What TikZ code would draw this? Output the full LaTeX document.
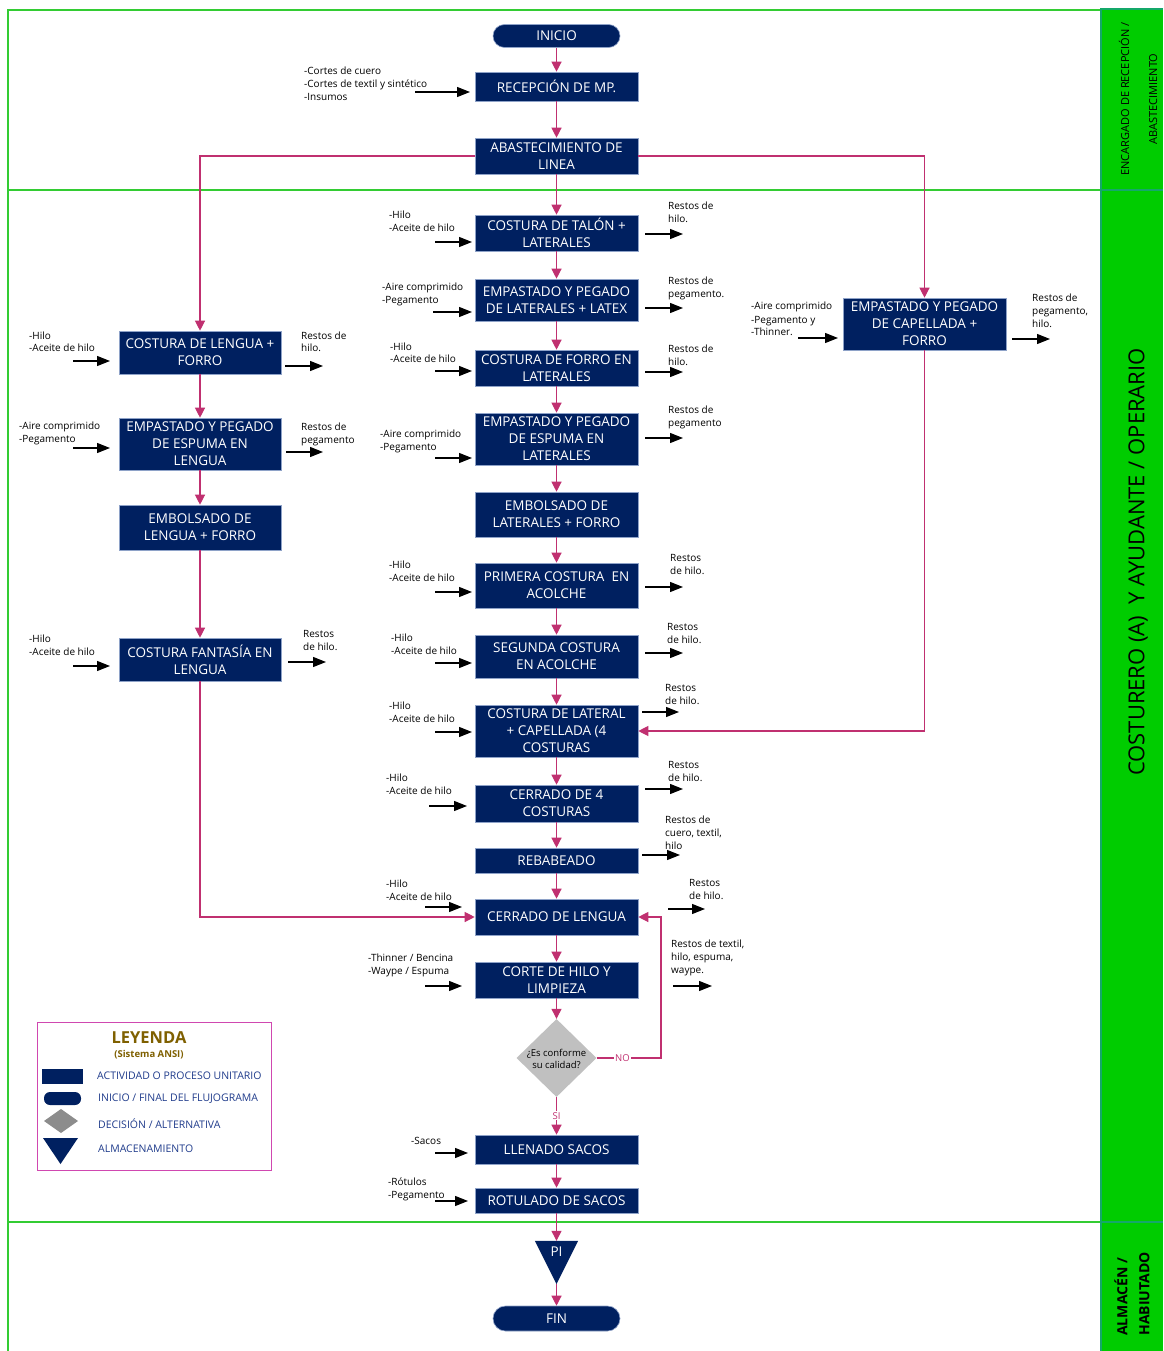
\documentclass[tikz,border=0pt]{standalone}
\usepackage{fontspec}
\setmainfont{Open Sans}
\usetikzlibrary{arrows.meta,shapes.geometric,calc}

\definecolor{navy}{HTML}{002060}
\definecolor{flowmag}{HTML}{C03070}
\definecolor{lanegreen}{HTML}{33CC33}
\definecolor{bandgreen}{HTML}{00CC00}
\definecolor{bandedge}{HTML}{14A86A}
\definecolor{boxedge}{HTML}{8EA2C8}
\definecolor{legendline}{HTML}{D048B0}
\definecolor{legendgold}{HTML}{7F6000}
\definecolor{legendtext}{HTML}{203C8C}
\definecolor{decgray}{HTML}{C0C0C0}
\definecolor{legendgray}{HTML}{8C8C8C}

% input / output material: label, two end points and the black arrow
\newcommand\ioitem[7]{%
  \node[iolbl] (#1) at (#2,#3-3.8) {#4};
  \coordinate (#1a) at (#5,#7);
  \coordinate (#1b) at (#6,#7);
  \draw[ioarr] (#1a) -- (#1b);}

\begin{document}
\begin{tikzpicture}[x=1pt,y=-1pt,
  box/.style={rectangle, fill=navy, draw=boxedge, line width=0.6pt, text=white,
    align=center, minimum width=163pt, inner sep=1pt,
    font=\fontsize{13.5}{17}\selectfont},
  term/.style={box, rounded corners=11.5pt, minimum width=127pt},
  flow/.style={draw=flowmag, line width=1.2pt, -{Triangle[length=10pt,width=10pt]}},
  ioarr/.style={draw=black, line width=1.2pt, -{Triangle[length=13pt,width=10pt]}},
  iolbl/.style={anchor=north west, align=left, inner sep=0pt,
    font=\fontsize{10}{13}\selectfont},
  lanetxt/.style={rotate=90, align=center, inner sep=0pt},
  legtxt/.style={anchor=west, inner sep=0pt, text=legendtext,
    font=\fontsize{10.5}{12}\selectfont},
  flowlbl/.style={fill=white, text=flowmag, inner sep=1pt,
    font=\fontsize{9.5}{11}\selectfont}
]
\useasboundingbox (0,0) rectangle (1163,1351);
\fill[white] (0,0) rectangle (1163,1351);

% ---------- swim lanes ----------
\draw[lanegreen, line width=1.5pt] (8,1351) -- (8,10) -- (1100,10);
\draw[lanegreen, line width=1.5pt] (8,190) -- (1100,190);
\draw[lanegreen, line width=1.5pt] (8,1222) -- (1100,1222);
\fill[bandgreen] (1100,9) rectangle (1163,1351);
\draw[bandedge, line width=2pt] (1101,1351) -- (1101,9) -- (1163,9);
\draw[bandedge, line width=2pt] (1101,190) -- (1163,190);
\draw[bandedge, line width=2pt] (1101,1222) -- (1163,1222);

\node[lanetxt, font=\fontsize{11}{28}\selectfont] (laneA) at (1138,99)
  {ENCARGADO DE RECEPCIÓN /\\ABASTECIMIENTO};
\node[lanetxt, font=\fontsize{22}{24}\selectfont] (laneB) at (1138,562)
  {COSTURERO (A)\ \ Y AYUDANTE / OPERARIO};
\node[lanetxt, align=left, font=\bfseries\fontsize{14}{22}\selectfont] (laneC) at (1132,1294)
  {ALMACÉN /\\HABIUTADO};

% ---------- main column ----------
\node[term, minimum height=23pt] (inicio) at (556.5,36) {INICIO};
\node[box, minimum height=29pt] (rec) at (556.5,86.5) {RECEPCIÓN DE MP.};
\node[box, minimum height=36pt] (abast) at (556.5,156) {ABASTECIMIENTO DE\\LINEA};
\node[box, minimum height=36pt] (talon) at (556.5,233) {COSTURA DE TALÓN +\\LATERALES};
\node[box, minimum height=42pt] (latex) at (556.5,300) {EMPASTADO Y PEGADO\\DE LATERALES + LATEX};
\node[box, minimum height=36pt] (forrolat) at (556.5,368) {COSTURA DE FORRO EN\\LATERALES};
\node[box, minimum height=52pt] (espumalat) at (556.5,439) {EMPASTADO Y PEGADO\\DE ESPUMA EN\\LATERALES};
\node[box, minimum height=45pt] (embolat) at (556.5,514.5) {EMBOLSADO DE\\LATERALES + FORRO};
\node[box, minimum height=45pt] (primera) at (556.5,585.5) {PRIMERA COSTURA\ \ EN\\ACOLCHE};
\node[box, minimum height=43pt] (segunda) at (556.5,656.5) {SEGUNDA COSTURA\\EN ACOLCHE};
\node[box, minimum height=52pt] (lateral) at (556.5,731) {COSTURA DE LATERAL\\+ CAPELLADA (4\\COSTURAS};
\node[box, minimum height=37pt] (cerr4) at (556.5,803.5) {CERRADO DE 4\\COSTURAS};
\node[box, minimum height=25pt] (rebab) at (556.5,860.5) {REBABEADO};
\node[box, minimum height=36pt] (cerrlen) at (556.5,917) {CERRADO DE LENGUA};
\node[box, minimum height=36pt] (corte) at (556.5,980) {CORTE DE HILO Y\\LIMPIEZA};
\node[diamond, fill=decgray, minimum width=80pt, minimum height=78pt, inner sep=0pt] (dec) at (556.5,1058) {};
\node[align=center, inner sep=0pt, font=\fontsize{9.5}{12.5}\selectfont] (dectext) at (556.5,1059)
  {¿Es conforme\\su calidad?};
\node[box, minimum height=29pt] (llenado) at (556.5,1149.5) {LLENADO SACOS};
\node[box, minimum height=25pt] (rotul) at (556.5,1200.5) {ROTULADO DE SACOS};
\node[minimum width=43pt, minimum height=43pt, inner sep=0pt] (pi) at (556.5,1262.5) {};
\fill[navy] (pi.north west) -- (pi.north east) -- (pi.south) -- cycle;
\node[text=white, inner sep=0pt, font=\fontsize{13.5}{17}\selectfont] (pitext) at (556.5,1252) {PI};
\node[term, minimum height=25pt, rounded corners=12.5pt] (fin) at (556.5,1318.5) {FIN};

% ---------- left column ----------
\node[box, minimum width=162pt, minimum height=43pt] (lengua1) at (200,352.5) {COSTURA DE LENGUA +\\FORRO};
\node[box, minimum width=162pt, minimum height=52pt] (espumaleng) at (200,444) {EMPASTADO Y PEGADO\\DE ESPUMA EN\\LENGUA};
\node[box, minimum width=162pt, minimum height=45pt] (emboleng) at (200,527.5) {EMBOLSADO DE\\LENGUA + FORRO};
\node[box, minimum width=162pt, minimum height=43pt] (fantasia) at (200,659.5) {COSTURA FANTASÍA EN\\LENGUA};

% ---------- right column ----------
\node[box, minimum height=52pt] (capellada) at (924.5,324) {EMPASTADO Y PEGADO\\DE CAPELLADA +\\FORRO};

% ---------- process flow ----------
\draw[flow] (inicio) -- (rec);
\draw[flow] (rec) -- (abast);
\draw[flow] (abast) -- (talon);
\draw[flow] (talon) -- (latex);
\draw[flow] (latex) -- (forrolat);
\draw[flow] (forrolat) -- (espumalat);
\draw[flow] (espumalat) -- (embolat);
\draw[flow] (embolat) -- (primera);
\draw[flow] (primera) -- (segunda);
\draw[flow] (segunda) -- (lateral);
\draw[flow] (lateral) -- (cerr4);
\draw[flow] (cerr4) -- (rebab);
\draw[flow] (rebab) -- (cerrlen);
\draw[flow] (cerrlen) -- (corte);
\draw[flow] (corte) -- (dec);
\draw[flow] (dec) -- node[flowlbl] (silbl) {SI} (llenado);
\draw[flow] (llenado) -- (rotul);
\draw[flow] (rotul) -- (pi.north);
\draw[flow] (pi.south) -- (fin);

\draw[flow] (abast.west) -| (lengua1.north);
\draw[flow] (lengua1) -- (espumaleng);
\draw[flow] (espumaleng) -- (emboleng);
\draw[flow] (emboleng) -- (fantasia);
\draw[flow] (fantasia.south) |- (cerrlen.west);

\draw[flow] (abast.east) -| (capellada.north);
\draw[flow] (capellada.south) |- (lateral.east);

\coordinate (noturn) at (661,1058);
\draw[flow] (dec.east) -- node[flowlbl, pos=0.4] (nolbl) {NO} (noturn) |- (cerrlen.east);

% ---------- inputs ----------
\ioitem{inRec}{304}{71}{-Cortes de cuero\\-Cortes de textil y sintético\\-Insumos}{415}{470}{92}
\ioitem{inTal}{389}{215}{-Hilo\\-Aceite de hilo}{435}{472}{242}
\ioitem{inLat}{382}{287}{-Aire comprimido\\-Pegamento}{433}{472}{312}
\ioitem{inFor}{390}{346}{-Hilo\\-Aceite de hilo}{435}{472}{371}
\ioitem{inEsp}{380}{433}{-Aire comprimido\\-Pegamento}{435}{472}{458}
\ioitem{inPri}{389}{564}{-Hilo\\-Aceite de hilo}{435}{472}{592}
\ioitem{inSeg}{391}{637}{-Hilo\\-Aceite de hilo}{435}{472}{663}
\ioitem{inCap}{389}{705}{-Hilo\\-Aceite de hilo}{435}{472}{732}
\ioitem{inCe4}{386}{777}{-Hilo\\-Aceite de hilo}{429}{467}{806}
\ioitem{inCeL}{386}{883}{-Hilo\\-Aceite de hilo}{425}{462}{907}
\ioitem{inCor}{368}{957}{-Thinner / Bencina\\-Waype / Espuma}{425}{462}{986}
\ioitem{inLle}{411}{1141}{-Sacos}{435}{468}{1153}
\ioitem{inRot}{388}{1181}{-Rótulos\\-Pegamento}{435}{468}{1201}
\ioitem{inLe1}{29}{335}{-Hilo\\-Aceite de hilo}{73}{110}{361}
\ioitem{inLe2}{19}{425}{-Aire comprimido\\-Pegamento}{73}{110}{448}
\ioitem{inFan}{29}{638}{-Hilo\\-Aceite de hilo}{73}{110}{666}
\ioitem{inCapR}{751}{306}{-Aire comprimido\\-Pegamento y\\-Thinner.}{798}{838}{338}

% ---------- outputs ----------
\ioitem{outTal}{668}{206}{Restos de\\hilo.}{645}{683}{234}
\ioitem{outLat}{668}{281}{Restos de\\pegamento.}{645}{683}{308}
\ioitem{outFor}{668}{348}{Restos de\\hilo.}{645}{683}{372}
\ioitem{outEsp}{668}{409}{Restos de\\pegamento}{645}{683}{438}
\ioitem{outPri}{670}{558}{Restos\\de hilo.}{645}{683}{587}
\ioitem{outSeg}{667}{627}{Restos\\de hilo.}{645}{683}{653}
\ioitem{outCap}{665}{688}{Restos\\de hilo.}{642}{679}{712}
\ioitem{outCe4}{668}{765}{Restos\\de hilo.}{645}{683}{789}
\ioitem{outReb}{665}{819}{Restos de\\cuero, textil,\\hilo}{642}{680}{855}
\ioitem{outCeL}{689}{883}{Restos\\de hilo.}{668}{705}{909}
\ioitem{outCor}{671}{943}{Restos de textil,\\hilo, espuma,\\waype.}{673}{712}{986}
\ioitem{outLe1}{301}{335}{Restos de\\hilo.}{285}{323}{366}
\ioitem{outLe2}{301}{426}{Restos de\\pegamento}{286}{323}{452}
\ioitem{outFan}{303}{634}{Restos\\de hilo.}{288}{326}{662}
\ioitem{outCapR}{1032}{298}{Restos de\\pegamento,\\hilo.}{1012}{1050}{339}

% ---------- legend ----------
\draw[legendline, line width=1pt] (37,1022) rectangle (271,1170);
\node[text=legendgold, font=\bfseries\fontsize{16.5}{18}\selectfont, inner sep=0pt] (legtitle) at (149,1038) {LEYENDA};
\node[text=legendgold, font=\bfseries\fontsize{9.5}{10}\selectfont, inner sep=0pt] (legsub) at (149,1055) {(Sistema ANSI)};
\fill[navy] (42,1069) rectangle (83,1084);
\fill[navy, rounded corners=6pt] (44,1092) rectangle (81,1105);
\fill[legendgray] (61,1109) -- (78,1121) -- (61,1133) -- (44,1121) -- cycle;
\fill[navy] (43,1138) -- (78,1138) -- (60.5,1164) -- cycle;
\node[legtxt] (leg1) at (97,1076) {ACTIVIDAD O PROCESO UNITARIO};
\node[legtxt] (leg2) at (98,1099) {INICIO / FINAL DEL FLUJOGRAMA};
\node[legtxt] (leg3) at (98,1124) {DECISIÓN / ALTERNATIVA};
\node[legtxt] (leg4) at (98,1149) {ALMACENAMIENTO};
\end{tikzpicture}
\end{document}
